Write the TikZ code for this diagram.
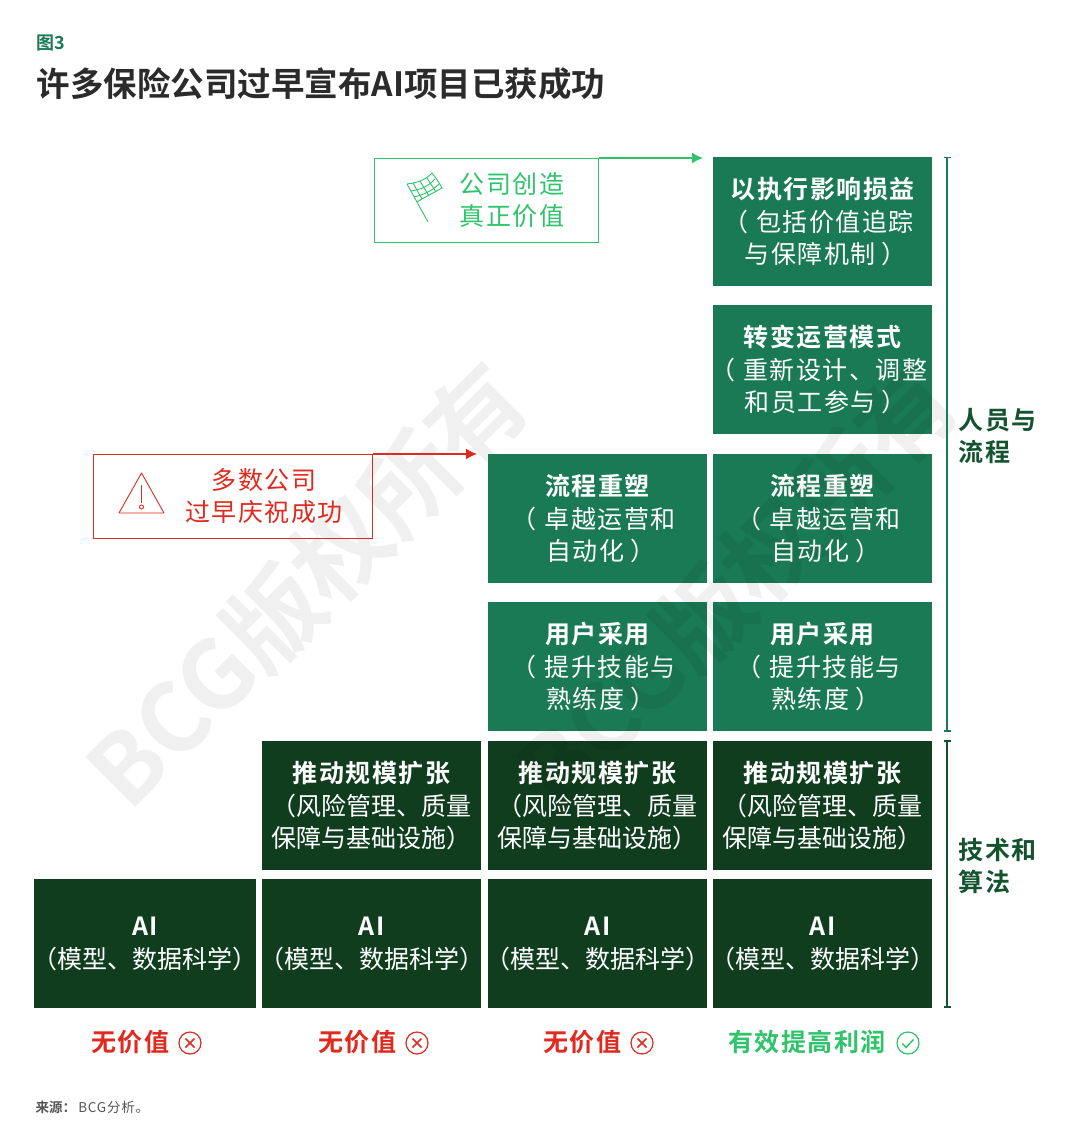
\documentclass[tikz,border=0pt]{standalone}
\usepackage{fontspec}
\usetikzlibrary{arrows.meta}
\setmainfont{Noto Sans CJK SC}
\newfontfamily\cjkb[LetterSpace=6]{Noto Sans CJK SC Bold}
\newfontfamily\cjkt{Noto Sans CJK SC Bold}
\newfontfamily\cjkl[LetterSpace=6]{Noto Sans CJK SC}
\definecolor{dkgreen}{HTML}{103D1E}
\definecolor{midgreen}{HTML}{1A7A55}
\definecolor{brgreen}{HTML}{2FC46B}
\definecolor{redc}{HTML}{DF2A1F}
\definecolor{inkc}{HTML}{2B2B2B}
\definecolor{sidegreen}{HTML}{14532F}
\tikzset{
 bx/.style={draw=none,minimum width=#1,minimum height=129,inner sep=0,align=center,text=white,anchor=north west},
 dk/.style={bx=#1,fill=dkgreen,font=\fontsize{25}{32.5}\selectfont},
 md/.style={bx=#1,fill=midgreen,font=\cjkl\fontsize{25}{32.5}\selectfont},
 lbl/.style={font=\cjkb\fontsize{25}{32}\selectfont,anchor=center},
 side/.style={font=\cjkb\fontsize{25}{32}\selectfont,text=sidegreen,align=left,anchor=west},
 callout/.style={font=\cjkl\fontsize{25}{32}\selectfont,align=center},
 brk/.style={draw=#1,line width=1.4},
 wm/.style={font=\cjkt\fontsize{95.5}{96}\selectfont,text=black,opacity=#1,rotate=45,anchor=center},
}
\newcommand{\hd}[1]{{\cjkb #1}}
\newcommand{\lpar}{\mbox{\kern-8pt（\kern8pt}}
\newcommand{\rpar}{\mbox{\kern6pt）\kern-6pt}}
\newcommand{\nlp}{\makebox[12.5pt][r]{（}}
\newcommand{\nrp}{\makebox[12.5pt][l]{）}}
\begin{document}
\begin{tikzpicture}[x=1pt,y=-1pt]
\useasboundingbox (0,0) rectangle (1080,1147);
\fill[white] (0,0) rectangle (1080,1147);

\node[anchor=west,font=\cjkt\fontsize{18}{20}\selectfont,text=midgreen] (fig) at (33,43) {图3};
\node[anchor=west,font=\cjkt\fontsize{33.5}{36}\selectfont,text=inkc] (title) at (33,84) {许多保险公司过早宣布AI项目已获成功};

% watermark under the callout
\node[wm=0.06] (w1) at (307,585) {BCG版权所有};

% column 4
\node[md=219] (a1) at (713,157) {\hd{以执行影响损益}\\\lpar 包括价值追踪\\与保障机制\rpar};
\node[md=219] (a2) at (713,305) {\hd{转变运营模式}\\\lpar 重新设计、调整\\和员工参与\rpar};
\node[md=219] (a3) at (713,454) {\hd{流程重塑}\\\lpar 卓越运营和\\自动化\rpar};
\node[md=219] (a4) at (713,602) {\hd{用户采用}\\\lpar 提升技能与\\熟练度\rpar};
\node[dk=219] (a5) at (713,741) {\hd{推动规模扩张}\\（风险管理、质量\\保障与基础设施）};
\node[dk=219] (a6) at (713,879) {\hd{AI}\\\nlp 模型、数据科学\nrp};
% column 3
\node[md=219] (b3) at (488,454) {\hd{流程重塑}\\\lpar 卓越运营和\\自动化\rpar};
\node[md=219] (b4) at (488,602) {\hd{用户采用}\\\lpar 提升技能与\\熟练度\rpar};
\node[dk=219] (b5) at (488,741) {\hd{推动规模扩张}\\（风险管理、质量\\保障与基础设施）};
\node[dk=219] (b6) at (488,879) {\hd{AI}\\\nlp 模型、数据科学\nrp};
% column 2
\node[dk=219] (c5) at (262,741) {\hd{推动规模扩张}\\（风险管理、质量\\保障与基础设施）};
\node[dk=219] (c6) at (262,879) {\hd{AI}\\\nlp 模型、数据科学\nrp};
% column 1
\node[dk=222] (d6) at (34,879) {\hd{AI}\\\nlp 模型、数据科学\nrp};

% watermark over the boxes
\node[wm=0.06] (w2) at (737,585) {BCG版权所有};

% green callout
\node[draw=brgreen,line width=1.4,minimum width=224,minimum height=84,inner sep=0,anchor=north west] (gbox) at (374,158) {};
\node[callout,text=brgreen] (gtxt) at (512,200) {公司创造\\真正价值};
\coordinate (gend) at (703,158);
\draw[brgreen,line width=1.4,-{Latex[length=11,width=11]}] (gbox.north east) -- (gend);
% flag
\begin{scope}[brgreen,line width=.9]
\draw (428,222) -- (407,184);
\draw (407,184) .. controls (415,183) and (425,181) .. (432,173) .. controls (436,178) and (440,184) .. (442,188) .. controls (433,193) and (425,197) .. (417,202);
\draw (411,191) .. controls (420,190) and (429,186) .. (435,179);
\draw (414,197) .. controls (423,195) and (432,191) .. (439,184);
\draw (413,183) -- (422,199);
\draw (420,181) -- (429,196);
\draw (427,178) -- (436,192);
\end{scope}

% red callout
\node[draw=redc,line width=1.4,minimum width=279,minimum height=84,inner sep=0,anchor=north west] (rbox) at (92.5,454) {};
\node[callout,text=redc] (rtxt) at (264,496) {多数公司\\过早庆祝成功};
\coordinate (rend) at (477,454);
\draw[redc,line width=1.4,-{Latex[length=11,width=11]}] (rbox.north east) -- (rend);
% warning
\begin{scope}[redc,line width=.9]
\draw[line join=round] (141.5,473) -- (164,513) -- (119,513) -- cycle;
\draw (141.5,485) -- (141.5,503);
\draw (141.5,507) circle (2);
\end{scope}

% brackets
\begin{scope}[brk=midgreen]
\coordinate (p1) at (947,157.5);
\coordinate (p2) at (947,731);
\draw (p1) -- (p2);
\draw (943.5,157.5) -- (950.5,157.5);
\draw (943.5,731) -- (950.5,731);
\end{scope}
\begin{scope}[brk=sidegreen]
\coordinate (q1) at (947,741);
\coordinate (q2) at (947,1007);
\draw (q1) -- (q2);
\draw (943.5,741) -- (950.5,741);
\draw (943.5,1007) -- (950.5,1007);
\end{scope}
\node[side] (s1) at (955,436) {人员与\\流程};
\node[side] (s2) at (955,866) {技术和\\算法};

% bottom labels
\node[lbl,text=redc] (v1) at (130,1042) {无价值};
\node[draw=redc,circle,line width=1.2,minimum size=22,inner sep=0] (x1) at (190,1043) {};
\draw[redc,line width=1.6] (x1.center) ++(-4.5,-4.5) -- ++(9,9) ++(-9,0) -- ++(9,-9);
\node[lbl,text=redc] (v2) at (357,1042) {无价值};
\node[draw=redc,circle,line width=1.2,minimum size=22,inner sep=0] (x2) at (417,1043) {};
\draw[redc,line width=1.6] (x2.center) ++(-4.5,-4.5) -- ++(9,9) ++(-9,0) -- ++(9,-9);
\node[lbl,text=redc] (v3) at (582,1042) {无价值};
\node[draw=redc,circle,line width=1.2,minimum size=22,inner sep=0] (x3) at (642,1043) {};
\draw[redc,line width=1.6] (x3.center) ++(-4.5,-4.5) -- ++(9,9) ++(-9,0) -- ++(9,-9);
\node[lbl,text=brgreen] (v4) at (807,1042) {有效提高利润};
\node[draw=brgreen,circle,line width=1.2,minimum size=22,inner sep=0] (x4) at (908,1043) {};
\draw[brgreen,line width=1.4] (x4.center) ++(-5.5,0.5) -- ++(3.5,4) -- ++(7.5,-8);

% source
\node[anchor=west,font=\fontsize{13.5}{15}\selectfont,text=inkc!80] (src) at (32,1107) {{\cjkt 来源：}\,{\cjkl BCG分析。}};
\end{tikzpicture}
\end{document}
